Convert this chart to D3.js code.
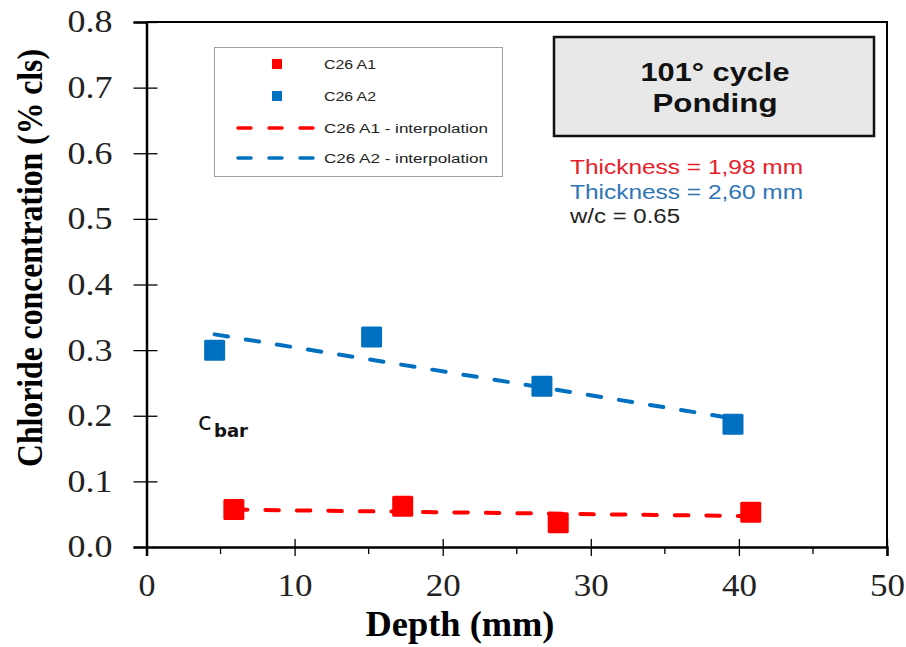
<!DOCTYPE html>
<html>
<head>
<meta charset="utf-8">
<script src="https://cdn.jsdelivr.net/npm/d3@7"></script>
<style>
  html, body { margin: 0; padding: 0; background: #fff; }
  svg { display: block; }
</style>
</head>
<body>
<svg id="chart" width="906" height="647"></svg>
<script>
// Measured chloride profiles: depth (mm) vs concentration (% cls)
const a1Depth = [5.9, 17.3, 27.8, 40.8];
const a1Conc  = [0.057, 0.062, 0.037, 0.053];
const a2Depth = [4.6, 15.2, 26.7, 39.6];
const a2Conc  = [0.300, 0.320, 0.245, 0.187];

// Interpolation line end points (depth, concentration)
const a1FitDepth = [5.9, 40.8];
const a1FitConc  = [0.057, 0.047];
const a2FitDepth = [4.6, 39.6];
const a2FitConc  = [0.324, 0.196];

const xTicks = [0, 10, 20, 30, 40, 50];
const xMinorTicks = [5, 15, 25, 35, 45];
const yTicks = [0, 0.1, 0.2, 0.3, 0.4, 0.5, 0.6, 0.7, 0.8];

const legendLabels = ["C26 A1", "C26 A2", "C26 A1 - interpolation", "C26 A2 - interpolation"];
const infoTitle = ["101° cycle", "Ponding"];
const infoLines = ["Thickness = 1,98 mm", "Thickness = 2,60 mm", "w/c = 0.65"];

const RED = "#ff0000", BLUE = "#0070c0";
const SERIF = "'Liberation Serif', 'Times New Roman', serif";
const SANS = "'Liberation Sans', Arial, sans-serif";

const svg = d3.select("#chart");
const plot = { left: 146.5, right: 887, top: 22, bottom: 547 };

const x = d3.scaleLinear().domain([0, 50]).range([plot.left, plot.right]);
const y = d3.scaleLinear().domain([0, 0.8]).range([plot.bottom, plot.top]);

// Frame (top and right)
svg.append("path")
  .attr("d", `M${plot.left},${plot.top}H${plot.right}V${plot.bottom}`)
  .attr("fill", "none").attr("stroke", "#000").attr("stroke-width", 2);

// Y axis
const yAxis = svg.append("g").attr("transform", `translate(${plot.left},0)`)
  .call(d3.axisLeft(y).tickValues(yTicks).tickFormat(d3.format(".1f"))
    .tickSize(13).tickPadding(21));
yAxis.select(".domain").attr("stroke-width", 2.5);
yAxis.selectAll(".tick line").clone().attr("x2", 11);
yAxis.selectAll(".tick line").attr("stroke-width", 1.3);
yAxis.selectAll("text").attr("font-family", SERIF).attr("font-size", 31)
  .attr("fill", "#222").attr("dy", "0.32em")
  .attr("textLength", 45).attr("lengthAdjust", "spacingAndGlyphs");

// X axis
const xAxis = svg.append("g").attr("transform", `translate(0,${plot.bottom})`)
  .call(d3.axisBottom(x).tickValues(xTicks).tickSize(9).tickPadding(18));
xAxis.select(".domain").attr("stroke-width", 2.5);
xAxis.selectAll(".tick line").clone().attr("y2", -8);
xAxis.selectAll(".tick line").attr("stroke-width", 1.3);
xAxis.selectAll("text").attr("font-family", SERIF).attr("font-size", 31)
  .attr("fill", "#222")
  .attr("textLength", d => d === 0 ? 17 : 35).attr("lengthAdjust", "spacingAndGlyphs");

svg.append("g").selectAll("line").data(xMinorTicks).join("line")
  .attr("x1", d => x(d)).attr("x2", d => x(d))
  .attr("y1", plot.bottom).attr("y2", plot.bottom + 7)
  .attr("stroke", "#000").attr("stroke-width", 1.3);

// Axis titles
svg.append("text")
  .attr("x", 460).attr("y", 636)
  .attr("text-anchor", "middle")
  .attr("font-family", SERIF).attr("font-weight", "bold").attr("font-size", 36)
  .attr("textLength", 189).attr("lengthAdjust", "spacingAndGlyphs")
  .text("Depth (mm)");

svg.append("text")
  .attr("transform", "translate(42,258) rotate(-90)")
  .attr("text-anchor", "middle")
  .attr("font-family", SERIF).attr("font-weight", "bold").attr("font-size", 35)
  .attr("textLength", 418).attr("lengthAdjust", "spacingAndGlyphs")
  .text("Chloride concentration (% cls)");

// Markers
const markerSize = 21;
function drawMarkers(xs, ys, color) {
  svg.append("g").selectAll("rect").data(d3.zip(xs, ys)).join("rect")
    .attr("x", d => x(d[0]) - markerSize / 2)
    .attr("y", d => y(d[1]) - markerSize / 2)
    .attr("width", markerSize).attr("height", markerSize)
    .attr("rx", 1.5)
    .attr("fill", color);
}
drawMarkers(a2Depth, a2Conc, BLUE);
drawMarkers(a1Depth, a1Conc, RED);

// Interpolation lines
const line = d3.line().x(d => x(d[0])).y(d => y(d[1]));
function drawFit(xs, ys, color) {
  svg.append("path")
    .datum(d3.zip(xs, ys))
    .attr("d", line)
    .attr("fill", "none")
    .attr("stroke", color).attr("stroke-width", 4)
    .attr("stroke-linecap", "round")
    .attr("stroke-dasharray", "13.5 18");
}
drawFit(a2FitDepth, a2FitConc, BLUE);
drawFit(a1FitDepth, a1FitConc, RED);

// c_bar annotation
svg.append("text")
  .attr("x", 198).attr("y", 430)
  .attr("font-family", "'DejaVu Sans', sans-serif").attr("font-size", 25)
  .attr("fill", "#111").text("c");
svg.append("text")
  .attr("x", 214).attr("y", 437)
  .attr("font-family", "'DejaVu Sans', sans-serif").attr("font-size", 17.5)
  .attr("font-weight", "bold").attr("fill", "#111")
  .attr("textLength", 34).attr("lengthAdjust", "spacingAndGlyphs")
  .text("bar");

// Legend
const legend = svg.append("g");
legend.append("rect")
  .attr("x", 214.5).attr("y", 47.5).attr("width", 288).attr("height", 129)
  .attr("fill", "#fff").attr("stroke", "#a0a0a0").attr("stroke-width", 1);
const legendY = [64, 96, 128, 158];
legendLabels.forEach((label, i) => {
  const ly = legendY[i];
  const color = i % 2 === 0 ? RED : BLUE;
  if (i < 2) {
    legend.append("rect")
      .attr("x", 272).attr("y", ly - 5).attr("width", 10).attr("height", 10)
      .attr("fill", color);
  } else {
    legend.append("line")
      .attr("x1", 238).attr("x2", 315).attr("y1", ly).attr("y2", ly)
      .attr("stroke", color).attr("stroke-width", 3.5)
      .attr("stroke-linecap", "round")
      .attr("stroke-dasharray", "13 18");
  }
  legend.append("text")
    .attr("x", 324).attr("y", ly + 4.5)
    .attr("font-family", SANS).attr("font-size", 12.5).attr("fill", "#222")
    .attr("textLength", i < 2 ? 52 : 164).attr("lengthAdjust", "spacingAndGlyphs")
    .text(label);
});

// Info box
svg.append("rect")
  .attr("x", 554).attr("y", 37).attr("width", 320).attr("height", 99)
  .attr("fill", "#e8e8e8").attr("stroke", "#111").attr("stroke-width", 2.5);
const titleWidths = [149, 125];
infoTitle.forEach((t, i) => {
  svg.append("text")
    .attr("x", 715).attr("y", 81 + i * 31)
    .attr("text-anchor", "middle")
    .attr("font-family", SANS).attr("font-weight", "bold").attr("font-size", 25)
    .attr("fill", "#111")
    .attr("textLength", titleWidths[i]).attr("lengthAdjust", "spacingAndGlyphs")
    .text(t);
});
const infoColors = ["#e8202a", "#2e75b6", "#222"];
const infoWidths = [233, 233, 110];
infoLines.forEach((t, i) => {
  svg.append("text")
    .attr("x", 570).attr("y", 174 + i * 24.5)
    .attr("font-family", SANS).attr("font-size", 19.5)
    .attr("fill", infoColors[i])
    .attr("textLength", infoWidths[i]).attr("lengthAdjust", "spacingAndGlyphs")
    .text(t);
});
</script>
</body>
</html>
